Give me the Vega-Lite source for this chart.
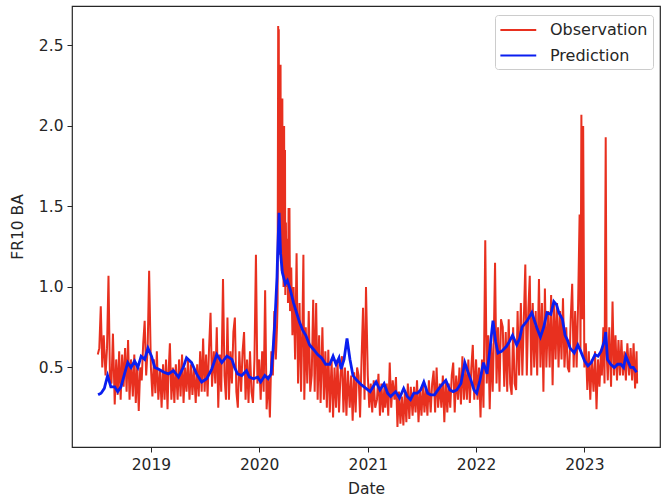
{
  "$schema": "https://vega.github.io/schema/vega-lite/v6.json",
  "autosize": {"type": "none"},
  "padding": {"left": 72, "top": 6, "right": 2, "bottom": 55},
  "width": 588,
  "height": 441,
  "background": "white",
  "datasets": {
    "obs": [
      {"d":"2018-07-06","v":0.58},{"d":"2018-07-11","v":0.62},{"d":"2018-07-16","v":0.88},{"d":"2018-07-21","v":0.5},{"d":"2018-07-26","v":0.7},
      {"d":"2018-08-01","v":0.45},{"d":"2018-08-06","v":0.62},{"d":"2018-08-11","v":1.07},{"d":"2018-08-16","v":0.42},{"d":"2018-08-21","v":0.4},{"d":"2018-08-26","v":0.71},
      {"d":"2018-09-01","v":0.27},{"d":"2018-09-06","v":0.55},{"d":"2018-09-11","v":0.33},{"d":"2018-09-16","v":0.6},{"d":"2018-09-21","v":0.3},{"d":"2018-09-26","v":0.58},
      {"d":"2018-10-01","v":0.38},{"d":"2018-10-06","v":0.62},{"d":"2018-10-11","v":0.35},{"d":"2018-10-16","v":0.67},{"d":"2018-10-21","v":0.3},{"d":"2018-10-26","v":0.55},
      {"d":"2018-11-01","v":0.32},{"d":"2018-11-06","v":0.58},{"d":"2018-11-11","v":0.28},{"d":"2018-11-16","v":0.52},{"d":"2018-11-21","v":0.23},{"d":"2018-11-26","v":0.5},
      {"d":"2018-12-01","v":0.42},{"d":"2018-12-06","v":0.65},{"d":"2018-12-11","v":0.79},{"d":"2018-12-16","v":0.45},{"d":"2018-12-21","v":0.62},{"d":"2018-12-26","v":1.1},
      {"d":"2019-01-01","v":0.5},{"d":"2019-01-06","v":0.32},{"d":"2019-01-11","v":0.55},{"d":"2019-01-16","v":0.34},{"d":"2019-01-21","v":0.6},{"d":"2019-01-26","v":0.3},
      {"d":"2019-02-01","v":0.48},{"d":"2019-02-06","v":0.25},{"d":"2019-02-11","v":0.52},{"d":"2019-02-16","v":0.3},{"d":"2019-02-21","v":0.55},{"d":"2019-02-26","v":0.24},
      {"d":"2019-03-01","v":0.45},{"d":"2019-03-06","v":0.65},{"d":"2019-03-11","v":0.3},{"d":"2019-03-16","v":0.5},{"d":"2019-03-21","v":0.28},{"d":"2019-03-26","v":0.52},
      {"d":"2019-04-01","v":0.3},{"d":"2019-04-06","v":0.55},{"d":"2019-04-11","v":0.32},{"d":"2019-04-16","v":0.58},{"d":"2019-04-21","v":0.28},{"d":"2019-04-26","v":0.5},
      {"d":"2019-05-01","v":0.35},{"d":"2019-05-06","v":0.55},{"d":"2019-05-11","v":0.3},{"d":"2019-05-16","v":0.52},{"d":"2019-05-21","v":0.33},{"d":"2019-05-26","v":0.5},
      {"d":"2019-06-01","v":0.28},{"d":"2019-06-06","v":0.52},{"d":"2019-06-11","v":0.32},{"d":"2019-06-16","v":0.6},{"d":"2019-06-21","v":0.35},{"d":"2019-06-26","v":0.68},
      {"d":"2019-07-01","v":0.35},{"d":"2019-07-06","v":0.58},{"d":"2019-07-11","v":0.32},{"d":"2019-07-16","v":0.62},{"d":"2019-07-21","v":0.84},{"d":"2019-07-26","v":0.38},
      {"d":"2019-08-01","v":0.6},{"d":"2019-08-06","v":0.4},{"d":"2019-08-11","v":0.75},{"d":"2019-08-16","v":0.25},{"d":"2019-08-21","v":0.58},{"d":"2019-08-26","v":0.35},
      {"d":"2019-09-01","v":1.05},{"d":"2019-09-06","v":0.45},{"d":"2019-09-11","v":0.3},{"d":"2019-09-16","v":0.81},{"d":"2019-09-21","v":0.3},{"d":"2019-09-26","v":0.6},
      {"d":"2019-10-01","v":0.4},{"d":"2019-10-06","v":0.72},{"d":"2019-10-11","v":0.81},{"d":"2019-10-16","v":0.35},{"d":"2019-10-21","v":0.25},{"d":"2019-10-26","v":0.6},
      {"d":"2019-11-01","v":0.35},{"d":"2019-11-06","v":0.6},{"d":"2019-11-11","v":0.72},{"d":"2019-11-16","v":0.3},{"d":"2019-11-21","v":0.55},{"d":"2019-11-26","v":0.28},
      {"d":"2019-12-01","v":0.6},{"d":"2019-12-06","v":0.35},{"d":"2019-12-11","v":0.28},{"d":"2019-12-16","v":0.55},{"d":"2019-12-21","v":1.2},{"d":"2019-12-26","v":0.4},
      {"d":"2020-01-01","v":0.55},{"d":"2020-01-06","v":0.3},{"d":"2020-01-11","v":0.6},{"d":"2020-01-16","v":0.35},{"d":"2020-01-21","v":0.98},{"d":"2020-01-26","v":0.24},
      {"d":"2020-02-01","v":0.45},{"d":"2020-02-06","v":0.19},{"d":"2020-02-11","v":0.6},{"d":"2020-02-16","v":0.45},{"d":"2020-02-21","v":0.85},{"d":"2020-02-26","v":0.55},
      {"d":"2020-03-01","v":0.75},{"d":"2020-03-03","v":0.9},{"d":"2020-03-05","v":2.62},{"d":"2020-03-06","v":1.5},{"d":"2020-03-07","v":2.6},{"d":"2020-03-08","v":1.3},
      {"d":"2020-03-10","v":2.38},{"d":"2020-03-11","v":1.2},{"d":"2020-03-13","v":2.38},{"d":"2020-03-14","v":1.3},{"d":"2020-03-16","v":2.17},{"d":"2020-03-17","v":1.1},
      {"d":"2020-03-19","v":2.17},{"d":"2020-03-20","v":1.2},{"d":"2020-03-22","v":2.0},{"d":"2020-03-23","v":1.0},{"d":"2020-03-25","v":2.0},{"d":"2020-03-26","v":1.1},
      {"d":"2020-03-28","v":1.85},{"d":"2020-03-29","v":0.95},{"d":"2020-03-31","v":1.4},{"d":"2020-04-02","v":1.0},{"d":"2020-04-05","v":1.3},{"d":"2020-04-07","v":0.9},
      {"d":"2020-04-09","v":1.49},{"d":"2020-04-10","v":1.0},{"d":"2020-04-12","v":1.49},{"d":"2020-04-14","v":0.85},{"d":"2020-04-18","v":1.12},{"d":"2020-04-22","v":0.7},{"d":"2020-04-26","v":1.0},
      {"d":"2020-05-01","v":0.55},{"d":"2020-05-06","v":1.21},{"d":"2020-05-11","v":0.4},{"d":"2020-05-16","v":0.9},{"d":"2020-05-21","v":0.35},{"d":"2020-05-26","v":0.8},{"d":"2020-05-29","v":1.2},
      {"d":"2020-06-01","v":0.3},{"d":"2020-06-06","v":0.75},{"d":"2020-06-11","v":0.4},{"d":"2020-06-16","v":0.85},{"d":"2020-06-21","v":0.35},{"d":"2020-06-26","v":0.45},
      {"d":"2020-07-01","v":0.92},{"d":"2020-07-06","v":0.35},{"d":"2020-07-11","v":0.9},{"d":"2020-07-16","v":0.3},{"d":"2020-07-21","v":0.7},{"d":"2020-07-26","v":0.28},
      {"d":"2020-08-01","v":0.75},{"d":"2020-08-06","v":0.3},{"d":"2020-08-11","v":0.6},{"d":"2020-08-16","v":0.25},{"d":"2020-08-21","v":0.61},{"d":"2020-08-26","v":0.22},
      {"d":"2020-09-01","v":0.55},{"d":"2020-09-06","v":0.19},{"d":"2020-09-11","v":0.5},{"d":"2020-09-16","v":0.25},{"d":"2020-09-21","v":0.55},{"d":"2020-09-26","v":0.22},
      {"d":"2020-10-01","v":0.45},{"d":"2020-10-06","v":0.57},{"d":"2020-10-11","v":0.22},{"d":"2020-10-16","v":0.5},{"d":"2020-10-21","v":0.2},{"d":"2020-10-26","v":0.48},
      {"d":"2020-11-01","v":0.25},{"d":"2020-11-06","v":0.45},{"d":"2020-11-11","v":0.17},{"d":"2020-11-16","v":0.47},{"d":"2020-11-21","v":0.22},{"d":"2020-11-26","v":0.5},
      {"d":"2020-12-01","v":0.45},{"d":"2020-12-06","v":0.19},{"d":"2020-12-11","v":0.55},{"d":"2020-12-16","v":0.87},{"d":"2020-12-21","v":0.3},{"d":"2020-12-26","v":1.0},
      {"d":"2021-01-01","v":0.45},{"d":"2021-01-06","v":0.25},{"d":"2021-01-11","v":0.4},{"d":"2021-01-16","v":0.22},{"d":"2021-01-21","v":0.42},{"d":"2021-01-26","v":0.25},
      {"d":"2021-02-01","v":0.3},{"d":"2021-02-06","v":0.46},{"d":"2021-02-11","v":0.2},{"d":"2021-02-16","v":0.4},{"d":"2021-02-21","v":0.22},{"d":"2021-02-26","v":0.38},
      {"d":"2021-03-01","v":0.25},{"d":"2021-03-06","v":0.4},{"d":"2021-03-11","v":0.2},{"d":"2021-03-16","v":0.53},{"d":"2021-03-21","v":0.25},{"d":"2021-03-26","v":0.42},
      {"d":"2021-04-01","v":0.3},{"d":"2021-04-06","v":0.44},{"d":"2021-04-11","v":0.13},{"d":"2021-04-16","v":0.35},{"d":"2021-04-21","v":0.15},{"d":"2021-04-26","v":0.32},
      {"d":"2021-05-01","v":0.14},{"d":"2021-05-06","v":0.35},{"d":"2021-05-11","v":0.16},{"d":"2021-05-16","v":0.4},{"d":"2021-05-21","v":0.18},{"d":"2021-05-26","v":0.38},
      {"d":"2021-06-01","v":0.2},{"d":"2021-06-06","v":0.38},{"d":"2021-06-11","v":0.22},{"d":"2021-06-16","v":0.42},{"d":"2021-06-21","v":0.16},{"d":"2021-06-26","v":0.36},
      {"d":"2021-07-01","v":0.2},{"d":"2021-07-06","v":0.4},{"d":"2021-07-11","v":0.22},{"d":"2021-07-16","v":0.38},{"d":"2021-07-21","v":0.2},{"d":"2021-07-26","v":0.42},
      {"d":"2021-08-01","v":0.22},{"d":"2021-08-06","v":0.4},{"d":"2021-08-11","v":0.48},{"d":"2021-08-16","v":0.22},{"d":"2021-08-21","v":0.5},{"d":"2021-08-26","v":0.25},
      {"d":"2021-09-01","v":0.4},{"d":"2021-09-06","v":0.25},{"d":"2021-09-11","v":0.45},{"d":"2021-09-16","v":0.16},{"d":"2021-09-21","v":0.42},{"d":"2021-09-26","v":0.22},
      {"d":"2021-10-01","v":0.4},{"d":"2021-10-06","v":0.25},{"d":"2021-10-11","v":0.45},{"d":"2021-10-16","v":0.53},{"d":"2021-10-21","v":0.22},{"d":"2021-10-26","v":0.45},
      {"d":"2021-11-01","v":0.3},{"d":"2021-11-06","v":0.5},{"d":"2021-11-11","v":0.27},{"d":"2021-11-16","v":0.57},{"d":"2021-11-21","v":0.3},{"d":"2021-11-26","v":0.5},
      {"d":"2021-12-01","v":0.3},{"d":"2021-12-06","v":0.55},{"d":"2021-12-11","v":0.28},{"d":"2021-12-16","v":0.5},{"d":"2021-12-21","v":0.64},{"d":"2021-12-26","v":0.3},
      {"d":"2022-01-01","v":0.55},{"d":"2022-01-06","v":0.3},{"d":"2022-01-11","v":0.5},{"d":"2022-01-16","v":0.19},{"d":"2022-01-21","v":0.55},{"d":"2022-01-26","v":0.25},
      {"d":"2022-02-01","v":1.29},{"d":"2022-02-06","v":0.4},{"d":"2022-02-11","v":0.7},{"d":"2022-02-16","v":0.24},{"d":"2022-02-21","v":0.65},{"d":"2022-02-26","v":0.35},
      {"d":"2022-03-01","v":0.6},{"d":"2022-03-06","v":1.15},{"d":"2022-03-11","v":0.4},{"d":"2022-03-16","v":0.75},{"d":"2022-03-21","v":0.35},{"d":"2022-03-26","v":0.8},
      {"d":"2022-04-01","v":0.75},{"d":"2022-04-06","v":0.38},{"d":"2022-04-11","v":0.72},{"d":"2022-04-16","v":0.35},{"d":"2022-04-21","v":0.8},{"d":"2022-04-26","v":0.4},
      {"d":"2022-05-01","v":0.33},{"d":"2022-05-06","v":0.75},{"d":"2022-05-11","v":0.4},{"d":"2022-05-16","v":0.36},{"d":"2022-05-21","v":0.85},{"d":"2022-05-26","v":0.45},
      {"d":"2022-06-01","v":0.9},{"d":"2022-06-06","v":0.45},{"d":"2022-06-11","v":0.8},{"d":"2022-06-16","v":1.14},{"d":"2022-06-21","v":0.45},{"d":"2022-06-26","v":0.85},
      {"d":"2022-07-01","v":1.07},{"d":"2022-07-06","v":0.45},{"d":"2022-07-11","v":0.9},{"d":"2022-07-16","v":0.5},{"d":"2022-07-21","v":0.85},{"d":"2022-07-26","v":0.45},
      {"d":"2022-08-01","v":1.05},{"d":"2022-08-06","v":0.5},{"d":"2022-08-11","v":0.9},{"d":"2022-08-16","v":0.35},{"d":"2022-08-21","v":0.99},{"d":"2022-08-26","v":0.5},
      {"d":"2022-09-01","v":0.85},{"d":"2022-09-06","v":0.5},{"d":"2022-09-11","v":0.95},{"d":"2022-09-16","v":0.39},{"d":"2022-09-21","v":0.9},{"d":"2022-09-26","v":0.55},
      {"d":"2022-10-01","v":0.9},{"d":"2022-10-06","v":0.5},{"d":"2022-10-11","v":0.85},{"d":"2022-10-16","v":0.55},{"d":"2022-10-21","v":0.93},{"d":"2022-10-26","v":0.5},
      {"d":"2022-11-01","v":0.75},{"d":"2022-11-06","v":0.5},{"d":"2022-11-11","v":0.47},{"d":"2022-11-16","v":0.8},{"d":"2022-11-21","v":1.02},{"d":"2022-11-26","v":0.5},
      {"d":"2022-12-01","v":0.85},{"d":"2022-12-06","v":0.5},{"d":"2022-12-11","v":0.9},{"d":"2022-12-16","v":1.45},{"d":"2022-12-19","v":0.6},{"d":"2022-12-22","v":2.07},{"d":"2022-12-25","v":0.8},{"d":"2022-12-28","v":2.0},
      {"d":"2023-01-01","v":0.5},{"d":"2023-01-06","v":0.65},{"d":"2023-01-11","v":0.36},{"d":"2023-01-16","v":0.6},{"d":"2023-01-21","v":0.3},{"d":"2023-01-26","v":0.55},
      {"d":"2023-02-01","v":0.35},{"d":"2023-02-06","v":0.6},{"d":"2023-02-11","v":0.24},{"d":"2023-02-16","v":0.55},{"d":"2023-02-21","v":0.38},{"d":"2023-02-26","v":0.6},
      {"d":"2023-03-01","v":0.45},{"d":"2023-03-06","v":0.75},{"d":"2023-03-10","v":0.4},{"d":"2023-03-14","v":1.93},{"d":"2023-03-17","v":0.6},{"d":"2023-03-21","v":0.42},{"d":"2023-03-26","v":0.75},
      {"d":"2023-04-01","v":0.38},{"d":"2023-04-06","v":0.91},{"d":"2023-04-11","v":0.45},{"d":"2023-04-16","v":0.7},{"d":"2023-04-21","v":0.42},{"d":"2023-04-26","v":0.67},
      {"d":"2023-05-01","v":0.45},{"d":"2023-05-06","v":0.67},{"d":"2023-05-11","v":0.45},{"d":"2023-05-16","v":0.6},{"d":"2023-05-21","v":0.42},{"d":"2023-05-26","v":0.65},
      {"d":"2023-06-01","v":0.45},{"d":"2023-06-06","v":0.62},{"d":"2023-06-11","v":0.42},{"d":"2023-06-16","v":0.65},{"d":"2023-06-21","v":0.37},{"d":"2023-06-26","v":0.6},{"d":"2023-06-28","v":0.4}
    ],
    "pred": [
      {"d":"2018-07-07","v":0.33},{"d":"2018-07-17","v":0.34},{"d":"2018-07-28","v":0.37},{"d":"2018-08-08","v":0.45},{"d":"2018-08-19","v":0.38},{"d":"2018-09-01","v":0.38},
      {"d":"2018-09-11","v":0.35},{"d":"2018-09-22","v":0.38},{"d":"2018-10-04","v":0.46},{"d":"2018-10-15","v":0.53},{"d":"2018-10-26","v":0.5},{"d":"2018-11-07","v":0.54},
      {"d":"2018-11-18","v":0.5},{"d":"2018-11-29","v":0.57},{"d":"2018-12-11","v":0.55},{"d":"2018-12-22","v":0.62},{"d":"2019-01-03","v":0.57},{"d":"2019-01-14","v":0.5},
      {"d":"2019-01-26","v":0.49},{"d":"2019-02-05","v":0.48},{"d":"2019-02-14","v":0.47},{"d":"2019-03-01","v":0.46},{"d":"2019-03-18","v":0.48},{"d":"2019-04-04","v":0.44},
      {"d":"2019-04-20","v":0.5},{"d":"2019-05-01","v":0.56},{"d":"2019-05-18","v":0.53},{"d":"2019-06-04","v":0.46},{"d":"2019-06-21","v":0.41},{"d":"2019-07-08","v":0.43},
      {"d":"2019-07-25","v":0.49},{"d":"2019-08-11","v":0.58},{"d":"2019-08-28","v":0.53},{"d":"2019-09-14","v":0.57},{"d":"2019-10-01","v":0.55},{"d":"2019-10-10","v":0.5},
      {"d":"2019-10-20","v":0.46},{"d":"2019-11-03","v":0.45},{"d":"2019-11-19","v":0.48},{"d":"2019-11-29","v":0.44},{"d":"2019-12-13","v":0.43},{"d":"2019-12-27","v":0.44},
      {"d":"2020-01-06","v":0.41},{"d":"2020-01-20","v":0.45},{"d":"2020-01-31","v":0.43},{"d":"2020-02-10","v":0.46},{"d":"2020-02-16","v":0.59},{"d":"2020-02-23","v":0.79},
      {"d":"2020-03-01","v":1.06},{"d":"2020-03-03","v":1.2},{"d":"2020-03-08","v":1.46},{"d":"2020-03-13","v":1.21},{"d":"2020-03-19","v":1.09},{"d":"2020-03-29","v":1.02},
      {"d":"2020-04-05","v":1.04},{"d":"2020-04-15","v":0.98},{"d":"2020-04-26","v":0.9},{"d":"2020-05-06","v":0.84},{"d":"2020-05-16","v":0.78},{"d":"2020-05-27","v":0.73},
      {"d":"2020-06-06","v":0.7},{"d":"2020-06-19","v":0.64},{"d":"2020-07-03","v":0.61},{"d":"2020-07-16","v":0.58},{"d":"2020-07-29","v":0.56},{"d":"2020-08-12","v":0.52},
      {"d":"2020-08-26","v":0.52},{"d":"2020-09-06","v":0.57},{"d":"2020-09-16","v":0.52},{"d":"2020-09-26","v":0.56},{"d":"2020-10-03","v":0.49},{"d":"2020-10-13","v":0.55},
      {"d":"2020-10-23","v":0.68},{"d":"2020-11-02","v":0.55},{"d":"2020-11-12","v":0.45},{"d":"2020-11-25","v":0.42},{"d":"2020-12-12","v":0.39},{"d":"2020-12-26","v":0.37},
      {"d":"2021-01-09","v":0.35},{"d":"2021-01-19","v":0.38},{"d":"2021-01-29","v":0.41},{"d":"2021-02-11","v":0.36},{"d":"2021-02-25","v":0.4},{"d":"2021-03-09","v":0.34},
      {"d":"2021-03-19","v":0.32},{"d":"2021-04-05","v":0.35},{"d":"2021-04-18","v":0.31},{"d":"2021-05-02","v":0.37},{"d":"2021-05-14","v":0.32},{"d":"2021-05-25","v":0.3},
      {"d":"2021-06-05","v":0.34},{"d":"2021-06-17","v":0.34},{"d":"2021-06-28","v":0.36},{"d":"2021-07-09","v":0.41},{"d":"2021-07-22","v":0.34},{"d":"2021-08-01","v":0.33},
      {"d":"2021-08-14","v":0.33},{"d":"2021-08-29","v":0.37},{"d":"2021-09-11","v":0.4},{"d":"2021-09-21","v":0.42},{"d":"2021-10-05","v":0.36},{"d":"2021-10-16","v":0.35},
      {"d":"2021-10-28","v":0.36},{"d":"2021-11-11","v":0.4},{"d":"2021-11-24","v":0.53},{"d":"2021-12-05","v":0.47},{"d":"2021-12-15","v":0.42},{"d":"2021-12-25","v":0.36},
      {"d":"2022-01-03","v":0.34},{"d":"2022-01-14","v":0.42},{"d":"2022-01-26","v":0.53},{"d":"2022-02-07","v":0.46},{"d":"2022-02-17","v":0.62},{"d":"2022-02-27","v":0.79},
      {"d":"2022-03-08","v":0.66},{"d":"2022-03-16","v":0.59},{"d":"2022-03-28","v":0.6},{"d":"2022-04-13","v":0.63},{"d":"2022-04-23","v":0.66},{"d":"2022-05-04","v":0.7},
      {"d":"2022-05-18","v":0.64},{"d":"2022-05-28","v":0.68},{"d":"2022-06-05","v":0.75},{"d":"2022-06-22","v":0.79},{"d":"2022-07-08","v":0.84},{"d":"2022-07-26","v":0.74},
      {"d":"2022-08-06","v":0.69},{"d":"2022-08-17","v":0.75},{"d":"2022-08-28","v":0.84},{"d":"2022-09-10","v":0.83},{"d":"2022-09-20","v":0.91},{"d":"2022-09-29","v":0.89},
      {"d":"2022-10-07","v":0.84},{"d":"2022-10-19","v":0.8},{"d":"2022-10-28","v":0.7},{"d":"2022-11-05","v":0.67},{"d":"2022-11-14","v":0.62},{"d":"2022-11-28","v":0.59},
      {"d":"2022-12-10","v":0.64},{"d":"2022-12-20","v":0.6},{"d":"2023-01-02","v":0.54},{"d":"2023-01-13","v":0.51},{"d":"2023-01-24","v":0.53},{"d":"2023-02-06","v":0.58},
      {"d":"2023-02-16","v":0.57},{"d":"2023-02-26","v":0.6},{"d":"2023-03-09","v":0.66},{"d":"2023-03-14","v":0.72},{"d":"2023-03-20","v":0.55},{"d":"2023-03-31","v":0.52},
      {"d":"2023-04-12","v":0.5},{"d":"2023-04-23","v":0.52},{"d":"2023-05-04","v":0.52},{"d":"2023-05-13","v":0.5},{"d":"2023-05-21","v":0.57},{"d":"2023-05-30","v":0.53},
      {"d":"2023-06-06","v":0.5},{"d":"2023-06-15","v":0.5},{"d":"2023-06-26","v":0.47}
    ]
  },
  "layer": [
    {
      "data": {"name": "obs"},
      "mark": {"type": "line", "strokeWidth": 2, "clip": true},
      "encoding": {
        "x": {"field": "d", "type": "temporal"},
        "y": {"field": "v", "type": "quantitative"},
        "color": {"datum": "Observation"}
      }
    },
    {
      "data": {"name": "pred"},
      "mark": {"type": "line", "strokeWidth": 2.8, "clip": true},
      "encoding": {
        "x": {
          "field": "d", "type": "temporal", "title": "Date",
          "scale": {"type": "utc", "domain": [{"year": 2018, "month": 4, "date": 10, "utc": true}, {"year": 2023, "month": 9, "date": 13, "utc": true}], "nice": false},
          "axis": {"tickCount": "year", "format": "%Y", "labelPadding": 5, "titlePadding": 9}
        },
        "y": {
          "field": "v", "type": "quantitative", "title": "FR10 BA",
          "scale": {"domain": [0.006, 2.745], "nice": false, "zero": false},
          "axis": {"values": [0.5, 1, 1.5, 2, 2.5], "format": ".1f", "labelPadding": 4, "titlePadding": 13}
        },
        "color": {
          "datum": "Prediction",
          "scale": {"domain": ["Observation", "Prediction"], "range": ["#e8301f", "#0a1ef0"]},
          "legend": {"title": null}
        }
      }
    }
  ],
  "config": {
    "view": {"stroke": "#262626", "strokeWidth": 1.2},
    "axis": {
      "labelFont": "DejaVu Sans", "labelFontSize": 15.5, "labelColor": "#262626",
      "titleFont": "DejaVu Sans", "titleFontSize": 15.5, "titleFontWeight": "normal", "titleColor": "#262626",
      "tickColor": "#262626", "tickSize": 5, "tickWidth": 1, "grid": false, "domain": false
    },
    "legend": {
      "orient": "none", "legendX": 423, "legendY": 9,
      "strokeColor": "#cccccc", "fillColor": "white", "cornerRadius": 3, "padding": 5,
      "symbolType": "M-1.1,0L3,0", "symbolSize": 306, "symbolStrokeWidth": 2.2,
      "labelFont": "DejaVu Sans", "labelFontSize": 16, "labelColor": "#262626", "labelOffset": 30,
      "rowPadding": 7.5
    }
  }
}
